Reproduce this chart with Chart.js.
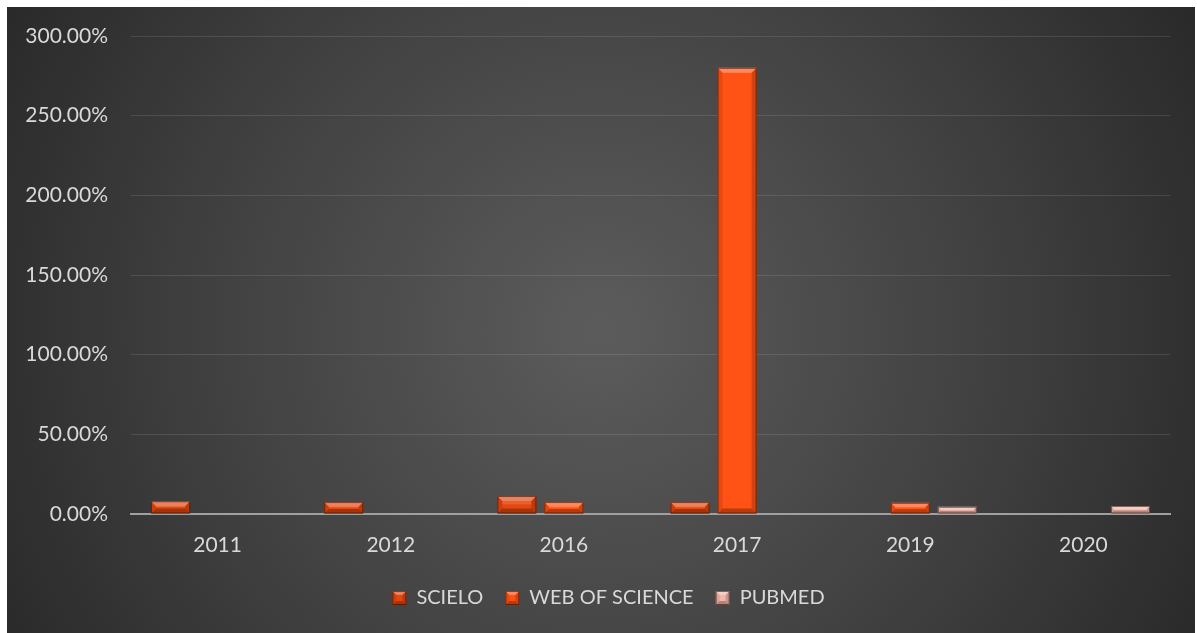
<!DOCTYPE html>
<html>
<head>
<meta charset="utf-8">
<title>SCIELO / WEB OF SCIENCE / PUBMED</title>
<script src="https://cdn.jsdelivr.net/npm/chart.js@4/dist/chart.umd.min.js"></script>
<style>
  html, body { margin: 0; padding: 0; background: #ffffff; }
  #wrap { width: 1197px; height: 633px; position: relative; }
</style>
</head>
<body>
<div id="wrap"><canvas id="chart" width="1197" height="633"></canvas></div>
<script>
// Years on the category axis
const years = ['2011', '2012', '2016', '2017', '2019', '2020'];

// Percentages per database (null = no bar for that year)
const scielo       = [8.0, 7.5, 11.3, 7.5, null, null];
const webOfScience = [null, null, 7.5, 280.0, 7.0, null];
const pubmed       = [null, null, null, null, 4.5, 5.0];

// Value axis ticks
const yTicks = [0, 50, 100, 150, 200, 250, 300];

const seriesNames  = ['SCIELO', 'WEB OF SCIENCE', 'PUBMED'];
const seriesColors = ['#E4470F', '#FF5214', '#F1B7AC'];

// Dark radial backdrop behind the whole chart
const backdrop = {
  id: 'backdrop',
  beforeDraw(chart) {
    const ctx = chart.ctx;
    ctx.save();
    ctx.fillStyle = '#ffffff';
    ctx.fillRect(0, 0, chart.width, chart.height);
    const g = ctx.createRadialGradient(600, 330, 0, 600, 330, 720);
    g.addColorStop(0, '#5c5c5c');
    g.addColorStop(0.55, '#404040');
    g.addColorStop(1, '#262626');
    ctx.fillStyle = g;
    ctx.fillRect(7, 7, 1188, chart.height - 7);
    ctx.restore();
  }
};

// Centre the legend row under the plot area rather than the full width
const legendShift = {
  id: 'legendShift',
  afterLayout(chart) {
    const lg = chart.legend;
    if (!lg) return;
    const dx = 20;
    lg.left += dx; lg.right += dx;
    if (lg.legendHitBoxes) lg.legendHitBoxes.forEach(hb => { hb.left += dx; });
  }
};

function bevelRect(ctx, l, t, w, h, e, outline) {
  const r = l + w, b = t + h;
  ctx.fillStyle = 'rgba(255,255,255,0.32)';
  ctx.beginPath();
  ctx.moveTo(l, t); ctx.lineTo(r, t); ctx.lineTo(r - e, t + e); ctx.lineTo(l + e, t + e);
  ctx.closePath(); ctx.fill();
  ctx.fillStyle = 'rgba(0,0,0,0.10)';
  ctx.beginPath();
  ctx.moveTo(l, t); ctx.lineTo(l + e, t + e); ctx.lineTo(l + e, b - e); ctx.lineTo(l, b);
  ctx.closePath(); ctx.fill();
  ctx.fillStyle = 'rgba(0,0,0,0.18)';
  ctx.beginPath();
  ctx.moveTo(r, t); ctx.lineTo(r - e, t + e); ctx.lineTo(r - e, b - e); ctx.lineTo(r, b);
  ctx.closePath(); ctx.fill();
  ctx.fillStyle = 'rgba(0,0,0,0.28)';
  ctx.beginPath();
  ctx.moveTo(l, b); ctx.lineTo(r, b); ctx.lineTo(r - e, b - e); ctx.lineTo(l + e, b - e);
  ctx.closePath(); ctx.fill();
  if (outline) {
    ctx.strokeStyle = 'rgba(40,10,0,0.55)';
    ctx.lineWidth = 1;
    ctx.strokeRect(l + 0.5, t + 0.5, w - 1, h - 1);
  }
}

// Bevelled edges on each bar, using the bar elements' own geometry
const bevel = {
  id: 'bevel',
  afterDatasetsDraw(chart) {
    const ctx = chart.ctx;
    ctx.save();
    chart.data.datasets.forEach((ds, di) => {
      const meta = chart.getDatasetMeta(di);
      if (meta.hidden) return;
      meta.data.forEach((bar, i) => {
        if (ds.data[i] == null) return;
        const w = bar.width;
        const l = bar.x - w / 2;
        const t = Math.min(bar.y, bar.base), b = Math.max(bar.y, bar.base);
        const h = b - t;
        const e = Math.min(5, h / 2.5, w / 4);
        bevelRect(ctx, l, t, w, h, e, false);
        if (h < 40) {
          ctx.fillStyle = 'rgba(255,255,255,0.14)';
          ctx.fillRect(l + e, t + e, w - 2 * e, Math.max(1, (h - 2 * e) * 0.45));
        }
        ctx.strokeStyle = 'rgba(40,10,0,0.55)';
        ctx.lineWidth = 1;
        ctx.strokeRect(l + 0.5, t + 0.5, w - 1, h - 1);
      });
    });
    ctx.restore();
  },
  afterDraw(chart) {
    const lg = chart.legend;
    if (!lg || !lg.legendHitBoxes) return;
    const ctx = chart.ctx;
    ctx.save();
    lg.legendHitBoxes.forEach(hb => {
      const s = 14;
      const t = hb.top + hb.height / 2 - s / 2;
      bevelRect(ctx, hb.left, t, s, s, 4, true);
    });
    ctx.restore();
  }
};

const datasets = [scielo, webOfScience, pubmed].map((vals, k) => ({
  label: seriesNames[k],
  data: vals,
  backgroundColor: seriesColors[k],
  borderWidth: 0,
  categoryPercentage: 0.815,
  barPercentage: 0.83
}));

Chart.defaults.font.family = 'Lato, "Open Sans", sans-serif';
Chart.defaults.color = '#d9d9d9';

new Chart(document.getElementById('chart'), {
  type: 'bar',
  data: { labels: years, datasets },
  options: {
    responsive: false,
    animation: false,
    events: [],
    layout: { padding: { left: 7, right: 27, top: 36, bottom: 15 } },
    scales: {
      x: {
        grid: { display: false, drawTicks: false },
        border: { display: true, color: '#a0a0a0', width: 2 },
        ticks: { color: '#d9d9d9', font: { size: 21 }, padding: 19 },
        afterFit(scale) { scale.height = 52; }
      },
      y: {
        min: 0,
        max: 300,
        afterBuildTicks(scale) { scale.ticks = yTicks.map(v => ({ value: v })); },
        grid: { color: 'rgba(255,255,255,0.11)', lineWidth: 1, drawTicks: false },
        border: { display: false },
        ticks: {
          color: '#d9d9d9',
          font: { size: 21 },
          padding: 23,
          callback: v => v.toFixed(2) + '%'
        },
        afterFit(scale) { scale.width = 124; }
      }
    },
    plugins: {
      legend: {
        position: 'bottom',
        labels: {
          color: '#d9d9d9',
          font: { size: 20 },
          boxWidth: 14,
          boxHeight: 14,
          padding: 22
        }
      },
      tooltip: { enabled: false }
    }
  },
  plugins: [backdrop, legendShift, bevel]
});
</script>
</body>
</html>
